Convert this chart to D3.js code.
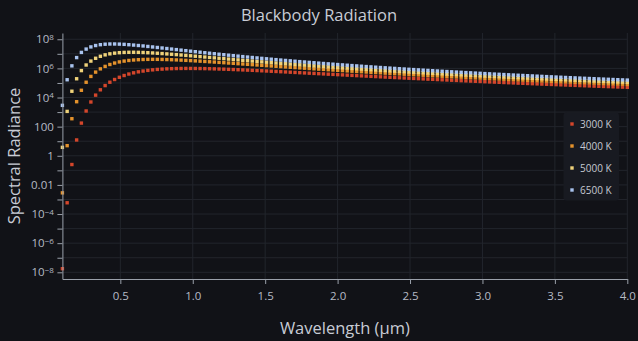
<!DOCTYPE html>
<html>
<head>
<meta charset="utf-8">
<script src="https://cdn.jsdelivr.net/npm/d3@7"></script>
<style>
  html, body { margin: 0; padding: 0; background: #111217; }
  svg { display: block; font-family: "Open Sans", "Noto Sans", sans-serif; }
</style>
</head>
<body>
<svg id="chart" width="638" height="341"></svg>
<script>
// Wavelength samples (µm)
const wavelengths = [
  0.1, 0.1328, 0.1655, 0.1983, 0.2311, 0.2639, 0.2966, 0.3294, 0.3622, 0.395,
  0.4277, 0.4605, 0.4933, 0.5261, 0.5588, 0.5916, 0.6244, 0.6571, 0.6899, 0.7227,
  0.7555, 0.7882, 0.821, 0.8538, 0.8866, 0.9193, 0.9521, 0.9849, 1.0176, 1.0504,
  1.0832, 1.116, 1.1487, 1.1815, 1.2143, 1.2471, 1.2798, 1.3126, 1.3454, 1.3782,
  1.4109, 1.4437, 1.4765, 1.5092, 1.542, 1.5748, 1.6076, 1.6403, 1.6731, 1.7059,
  1.7387, 1.7714, 1.8042, 1.837, 1.8697, 1.9025, 1.9353, 1.9681, 2.0008, 2.0336,
  2.0664, 2.0992, 2.1319, 2.1647, 2.1975, 2.2303, 2.263, 2.2958, 2.3286, 2.3613,
  2.3941, 2.4269, 2.4597, 2.4924, 2.5252, 2.558, 2.5908, 2.6235, 2.6563, 2.6891,
  2.7218, 2.7546, 2.7874, 2.8202, 2.8529, 2.8857, 2.9185, 2.9513, 2.984, 3.0168,
  3.0496, 3.0824, 3.1151, 3.1479, 3.1807, 3.2134, 3.2462, 3.279, 3.3118, 3.3445,
  3.3773, 3.4101, 3.4429, 3.4756, 3.5084, 3.5412, 3.5739, 3.6067, 3.6395, 3.6723,
  3.705, 3.7378, 3.7706, 3.8034, 3.8361, 3.8689, 3.9017, 3.9345, 3.9672, 4.0
];

// Spectral radiance, W/(m²·sr·µm)
const radiance3000 = [
  1.768e-8, 5.931e-4, 0.2510, 12.21, 175.4, 1190, 4935, 1.460e4, 3.392e4, 6.601e4,
  1.123e5, 1.725e5, 2.444e5, 3.247e5, 4.097e5, 4.957e5, 5.794e5, 6.582e5, 7.300e5, 7.936e5,
  8.483e5, 8.937e5, 9.300e5, 9.576e5, 9.771e5, 9.893e5, 9.947e5, 9.943e5, 9.888e5, 9.790e5,
  9.655e5, 9.489e5, 9.298e5, 9.087e5, 8.861e5, 8.623e5, 8.377e5, 8.125e5, 7.871e5, 7.615e5,
  7.361e5, 7.108e5, 6.860e5, 6.615e5, 6.376e5, 6.143e5, 5.916e5, 5.695e5, 5.481e5, 5.274e5,
  5.074e5, 4.881e5, 4.695e5, 4.516e5, 4.343e5, 4.177e5, 4.018e5, 3.865e5, 3.718e5, 3.577e5,
  3.442e5, 3.312e5, 3.188e5, 3.068e5, 2.954e5, 2.845e5, 2.740e5, 2.639e5, 2.542e5, 2.450e5,
  2.361e5, 2.276e5, 2.195e5, 2.117e5, 2.042e5, 1.970e5, 1.901e5, 1.835e5, 1.772e5, 1.711e5,
  1.653e5, 1.597e5, 1.543e5, 1.491e5, 1.442e5, 1.394e5, 1.348e5, 1.304e5, 1.262e5, 1.221e5,
  1.182e5, 1.145e5, 1.109e5, 1.074e5, 1.040e5, 1.008e5, 9.771e4, 9.472e4, 9.184e4, 8.907e4,
  8.640e4, 8.383e4, 8.135e4, 7.895e4, 7.665e4, 7.442e4, 7.227e4, 7.020e4, 6.820e4, 6.627e4,
  6.440e4, 6.260e4, 6.086e4, 5.918e4, 5.756e4, 5.599e4, 5.447e4, 5.300e4, 5.158e4, 5.021e4
];

const radiance4000 = [
  2.849e-3, 4.954, 350.8, 5155, 3.142e4, 1.119e5, 2.810e5, 5.559e5, 9.294e5, 1.374e6,
  1.854e6, 2.332e6, 2.779e6, 3.175e6, 3.507e6, 3.769e6, 3.964e6, 4.095e6, 4.169e6, 4.194e6,
  4.176e6, 4.124e6, 4.045e6, 3.944e6, 3.828e6, 3.700e6, 3.563e6, 3.422e6, 3.279e6, 3.136e6,
  2.994e6, 2.854e6, 2.719e6, 2.587e6, 2.460e6, 2.338e6, 2.221e6, 2.109e6, 2.003e6, 1.902e6,
  1.805e6, 1.714e6, 1.628e6, 1.546e6, 1.468e6, 1.395e6, 1.325e6, 1.260e6, 1.198e6, 1.139e6,
  1.084e6, 1.032e6, 9.823e5, 9.356e5, 8.915e5, 8.497e5, 8.103e5, 7.729e5, 7.376e5, 7.041e5,
  6.724e5, 6.425e5, 6.140e5, 5.871e5, 5.616e5, 5.374e5, 5.144e5, 4.926e5, 4.719e5, 4.523e5,
  4.336e5, 4.158e5, 3.989e5, 3.829e5, 3.676e5, 3.531e5, 3.392e5, 3.260e5, 3.134e5, 3.015e5,
  2.900e5, 2.791e5, 2.687e5, 2.588e5, 2.493e5, 2.402e5, 2.315e5, 2.232e5, 2.153e5, 2.077e5,
  2.005e5, 1.935e5, 1.869e5, 1.805e5, 1.744e5, 1.685e5, 1.629e5, 1.575e5, 1.523e5, 1.474e5,
  1.426e5, 1.380e5, 1.336e5, 1.294e5, 1.253e5, 1.214e5, 1.177e5, 1.141e5, 1.106e5, 1.072e5,
  1.040e5, 1.009e5, 9.792e4, 9.504e4, 9.226e4, 8.958e4, 8.700e4, 8.451e4, 8.211e4, 7.979e4
];

const radiance5000 = [
  3.79, 1117, 2.706e4, 1.939e5, 7.066e5, 1.710e6, 3.176e6, 4.938e6, 6.776e6, 8.498e6,
  9.974e6, 1.114e7, 1.198e7, 1.250e7, 1.276e7, 1.279e7, 1.263e7, 1.234e7, 1.195e7, 1.148e7,
  1.097e7, 1.044e7, 9.891e6, 9.346e6, 8.810e6, 8.291e6, 7.791e6, 7.314e6, 6.861e6, 6.433e6,
  6.029e6, 5.651e6, 5.296e6, 4.964e6, 4.654e6, 4.364e6, 4.094e6, 3.842e6, 3.608e6, 3.389e6,
  3.186e6, 2.996e6, 2.819e6, 2.654e6, 2.501e6, 2.357e6, 2.223e6, 2.099e6, 1.982e6, 1.873e6,
  1.771e6, 1.675e6, 1.586e6, 1.503e6, 1.424e6, 1.351e6, 1.282e6, 1.217e6, 1.156e6, 1.099e6,
  1.045e6, 9.944e5, 9.468e5, 9.019e5, 8.595e5, 8.196e5, 7.819e5, 7.463e5, 7.127e5, 6.809e5,
  6.509e5, 6.224e5, 5.955e5, 5.700e5, 5.458e5, 5.228e5, 5.011e5, 4.804e5, 4.608e5, 4.422e5,
  4.245e5, 4.076e5, 3.916e5, 3.763e5, 3.618e5, 3.479e5, 3.347e5, 3.222e5, 3.102e5, 2.987e5,
  2.878e5, 2.773e5, 2.674e5, 2.578e5, 2.487e5, 2.400e5, 2.316e5, 2.236e5, 2.160e5, 2.087e5,
  2.016e5, 1.949e5, 1.884e5, 1.822e5, 1.763e5, 1.706e5, 1.651e5, 1.599e5, 1.548e5, 1.500e5,
  1.453e5, 1.408e5, 1.365e5, 1.323e5, 1.283e5, 1.245e5, 1.208e5, 1.172e5, 1.138e5, 1.104e5
];

const radiance6500 = [
  2903, 1.660e5, 1.494e6, 5.518e6, 1.251e7, 2.118e7, 2.981e7, 3.711e7, 4.247e7, 4.580e7,
  4.732e7, 4.740e7, 4.640e7, 4.466e7, 4.243e7, 3.993e7, 3.730e7, 3.467e7, 3.210e7, 2.963e7,
  2.730e7, 2.512e7, 2.310e7, 2.123e7, 1.951e7, 1.794e7, 1.650e7, 1.519e7, 1.399e7, 1.289e7,
  1.189e7, 1.098e7, 1.015e7, 9.387e6, 8.693e6, 8.059e6, 7.479e6, 6.948e6, 6.461e6, 6.014e6,
  5.604e6, 5.227e6, 4.880e6, 4.561e6, 4.267e6, 3.995e6, 3.744e6, 3.513e6, 3.298e6, 3.099e6,
  2.915e6, 2.744e6, 2.585e6, 2.437e6, 2.299e6, 2.171e6, 2.052e6, 1.940e6, 1.836e6, 1.739e6,
  1.648e6, 1.562e6, 1.482e6, 1.408e6, 1.337e6, 1.271e6, 1.209e6, 1.151e6, 1.096e6, 1.044e6,
  9.957e5, 9.498e5, 9.065e5, 8.656e5, 8.270e5, 7.905e5, 7.559e5, 7.232e5, 6.923e5, 6.630e5,
  6.352e5, 6.088e5, 5.838e5, 5.600e5, 5.375e5, 5.160e5, 4.956e5, 4.762e5, 4.578e5, 4.402e5,
  4.234e5, 4.075e5, 3.922e5, 3.777e5, 3.639e5, 3.506e5, 3.380e5, 3.259e5, 3.144e5, 3.033e5,
  2.928e5, 2.826e5, 2.730e5, 2.637e5, 2.548e5, 2.463e5, 2.381e5, 2.303e5, 2.228e5, 2.156e5,
  2.087e5, 2.021e5, 1.957e5, 1.895e5, 1.836e5, 1.780e5, 1.725e5, 1.673e5, 1.622e5, 1.574e5
];

const seriesNames = ["3000 K", "4000 K", "5000 K", "6500 K"];
const seriesColors = ["#d4462b", "#e4922c", "#efd27a", "#a9c3ee"];
const xTickValues = [0.5, 1.0, 1.5, 2.0, 2.5, 3.0, 3.5, 4.0];
// Labelled decades: [exponent, plain label or null for power notation]
const yLabelExponents = [8, 6, 4, 2, 0, -2, -4, -6, -8];
const yPlainLabels = { "2": "100", "0": "1", "-2": "0.01" };

const series = [radiance3000, radiance4000, radiance5000, radiance6500].map((vals, k) => ({
  name: seriesNames[k],
  color: seriesColors[k],
  points: vals.map((v, i) => ({ x: wavelengths[i], y: v }))
}));

const plot = { left: 62.4, right: 627.3, top: 33, bottom: 279 };
const svg = d3.select("#chart");
const bg = "#111217";
svg.append("rect").attr("width", 638).attr("height", 341).attr("fill", bg);

const x = d3.scaleLinear().domain([0.1, 4.0]).range([plot.left, plot.right]);
const y = d3.scaleLog().domain([Math.pow(10, -8.46), Math.pow(10, 8.43)]).range([plot.bottom, plot.top]);

const decades = d3.range(-8, 9).map(e => Math.pow(10, e));
const gridColor = "#22252c";
const axisColor = "#9aa0aa";
const tickTextColor = "#b6bbc5";

// grid
const grid = svg.append("g");
grid.selectAll("line.h").data(decades).join("line")
  .attr("x1", plot.left).attr("x2", plot.right)
  .attr("y1", d => y(d)).attr("y2", d => y(d))
  .attr("stroke", gridColor).attr("stroke-width", 1);
grid.selectAll("line.v").data(xTickValues).join("line")
  .attr("x1", d => x(d)).attr("x2", d => x(d))
  .attr("y1", plot.top).attr("y2", plot.bottom)
  .attr("stroke", gridColor).attr("stroke-width", 1);

// markers
const ms = 3.4;
series.forEach(s => {
  svg.append("g").selectAll("rect").data(s.points).join("rect")
    .attr("x", d => x(d.x) - ms / 2)
    .attr("y", d => y(d.y) - ms / 2)
    .attr("width", ms).attr("height", ms)
    .attr("fill", s.color);
});

// x axis
const xAxis = svg.append("g").attr("transform", `translate(0,${plot.bottom})`)
  .call(d3.axisBottom(x).tickValues(xTickValues).tickFormat(d3.format(".1f"))
    .tickSize(5).tickPadding(8).tickSizeOuter(0));
xAxis.select(".domain").attr("stroke", axisColor);
xAxis.selectAll(".tick line").attr("stroke", axisColor);
xAxis.selectAll(".tick text").attr("fill", tickTextColor)
  .style("font-size", "11.5px").style("font-family", '"Open Sans", "Noto Sans", sans-serif');

// y axis
const yAxis = svg.append("g").attr("transform", `translate(${plot.left},0)`)
  .call(d3.axisLeft(y).tickValues(decades).tickFormat("").tickSize(5).tickSizeOuter(0));
yAxis.select(".domain").attr("stroke", axisColor);
yAxis.selectAll(".tick line").attr("stroke", axisColor);

const yLab = svg.append("g").attr("fill", tickTextColor)
  .style("font-size", "11.5px").attr("text-anchor", "end");
yLabelExponents.forEach(e => {
  const ty = y(Math.pow(10, e));
  const t = yLab.append("text").attr("x", 53.8).attr("y", ty).attr("dy", "0.36em");
  const plain = yPlainLabels[String(e)];
  if (plain) {
    t.text(plain);
  } else {
    t.append("tspan").text("10");
    t.append("tspan").attr("dy", "-0.42em").style("font-size", "8px")
      .text(e < 0 ? "\u2212" + Math.abs(e) : String(e));
  }
});

// titles
svg.append("text").attr("x", 319).attr("y", 20.5).attr("text-anchor", "middle")
  .attr("fill", "#c8ccd5").style("font-size", "16.5px").text("Blackbody Radiation");
svg.append("text").attr("x", (plot.left + plot.right) / 2).attr("y", 334).attr("text-anchor", "middle")
  .attr("fill", "#c8ccd5").style("font-size", "16.5px").text("Wavelength (µm)");
svg.append("text").attr("transform", `translate(20,${(plot.top + plot.bottom) / 2}) rotate(-90)`)
  .attr("text-anchor", "middle").attr("fill", "#c8ccd5").style("font-size", "16.5px")
  .text("Spectral Radiance");

// legend
const lg = svg.append("g").attr("transform", "translate(563.5,112.5)");
lg.append("rect").attr("width", 55.5).attr("height", 88).attr("rx", 3)
  .attr("fill", "#181a21");
series.forEach((s, k) => {
  const cy = 11.5 + k * 22;
  lg.append("rect").attr("x", 8.5 - 1.7).attr("y", cy - 1.7).attr("width", 3.4).attr("height", 3.4)
    .attr("fill", s.color);
  lg.append("text").attr("x", 16.5).attr("y", cy).attr("dy", "0.35em")
    .attr("fill", "#c5c9d2").style("font-size", "10px").text(s.name);
});
</script>
</body>
</html>
